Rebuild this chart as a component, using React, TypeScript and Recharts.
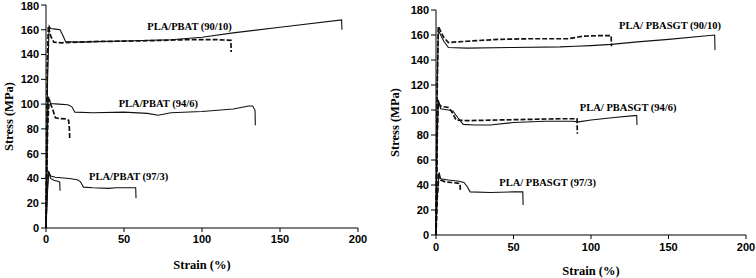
import React from 'react';
import { LineChart, Line, XAxis, YAxis, ReferenceDot, Label } from 'recharts';

// tick labels
const strainTicks = [0, 50, 100, 150, 200];
const stressTicks = [0, 20, 40, 60, 80, 100, 120, 140, 160, 180];

// PLA/PBAT (left panel)
const pbat9010aStrain = [0, 1, 2, 3, 6, 9, 11, 12.5, 20, 50, 80, 100, 120, 150, 189.5, 189.7];
const pbat9010aStress = [0, 120, 163, 161, 160.5, 160, 155, 150.5, 150, 151, 152, 154, 157.5, 162, 168, 160];
const pbat9010bStrain = [0, 0.8, 1.5, 3, 5, 10, 30, 60, 90, 110, 118.5, 118.7];
const pbat9010bStress = [0, 130, 163, 155, 150, 149.5, 150.5, 151, 152, 152, 151.5, 142];

const pbat946aStrain = [0, 1, 1.5, 3, 8, 14, 16.5, 18.5, 30, 50, 65, 72, 80, 100, 120, 130, 132.5, 134, 134.2];
const pbat946aStress = [0, 80, 106, 100.5, 100, 99.5, 98, 93.5, 93, 93.5, 92.5, 91, 93, 94, 96, 98.5, 98.5, 95, 83];
const pbat946bStrain = [0, 1, 2, 3, 4.5, 6, 8, 13, 14.5, 15, 15.2];
const pbat946bStress = [0, 80, 104, 100, 95, 89, 88.5, 88, 87, 80, 72];

const pbat973aStrain = [0, 0.8, 1.5, 3, 6, 15, 20, 22, 24, 30, 40, 45, 55, 57.5, 57.7];
const pbat973aStress = [0, 30, 46, 42, 41, 40, 39, 37.5, 33, 32.5, 32, 32.5, 32.5, 32.5, 24];
const pbat973bStrain = [0, 1, 1.8, 3, 5, 8, 8.8, 9];
const pbat973bStress = [0, 30, 45, 40, 38.5, 37.5, 37, 30];

// PLA/PBASGT (right panel)
const pbasgt9010aStrain = [0, 0.8, 1.5, 3, 5, 8, 20, 50, 80, 90, 100, 113, 130, 150, 179.8, 180];
const pbasgt9010aStress = [0, 120, 164, 160, 155, 150, 149.5, 150, 150.5, 151, 151.5, 152.5, 154.5, 156.5, 160, 148];
const pbasgt9010bStrain = [0, 0.8, 1.5, 3, 5, 8, 20, 40, 60, 85, 95, 105, 113, 113.2];
const pbasgt9010bStress = [0, 120, 167, 163, 158, 154, 155, 156.5, 157, 157, 159, 159.5, 159.5, 151];

const pbasgt946aStrain = [0, 0.8, 1.5, 3, 8, 11, 14, 17.5, 25, 35, 50, 70, 88, 92, 100, 115, 128, 129.5, 129.7];
const pbasgt946aStress = [0, 80, 108, 101, 100, 99, 94, 88.5, 88, 88, 90, 91, 91, 90.5, 92, 94, 95.5, 95.5, 88];
const pbasgt946bStrain = [0, 0.8, 1.5, 3, 8, 10, 13, 20, 40, 60, 80, 91, 91.2];
const pbasgt946bStress = [0, 80, 106, 103, 102, 99, 92, 91.5, 92, 92.5, 93, 93, 81];

const pbasgt973aStrain = [0, 0.8, 2, 3, 8, 15, 18, 20, 22, 35, 50, 56, 56.2];
const pbasgt973aStress = [0, 30, 50, 45, 44, 43, 42, 39, 34.5, 34, 34.5, 34.5, 24];
const pbasgt973bStrain = [0, 0.8, 1.8, 3, 6, 10, 14, 15.5, 15.7];
const pbasgt973bStress = [0, 30, 47, 44, 42.5, 42, 41.5, 41, 36];

// curve annotations
const pbatLabels = ['PLA/PBAT (90/10)', 'PLA/PBAT (94/6)', 'PLA/PBAT (97/3)'];
const pbatLabelX = [92, 72, 53];
const pbatLabelY = [163, 101, 41.5];
const pbasgtLabels = ['PLA/ PBASGT (90/10)', 'PLA/ PBASGT (94/6)', 'PLA/ PBASGT (97/3)'];
const pbasgtLabelX = [151, 124, 72];
const pbasgtLabelY = [168, 102, 42.5];

const pts = (xs: number[], ys: number[]) => xs.map((x, i) => ({ x, y: ys[i] }));

const tickStyle = { fill: '#000', fontFamily: 'Liberation Sans, Arial, sans-serif', fontWeight: 700, fontSize: 11 };
const titleStyle = { fill: '#000', fontFamily: 'Liberation Serif, Times New Roman, serif', fontWeight: 700, fontSize: 12.5 };
const annoStyle = { fill: '#000', fontFamily: 'Liberation Serif, Times New Roman, serif', fontWeight: 700, fontSize: 10.5 };

type Series = { data: { x: number; y: number }[]; dashed?: boolean };

const Panel: React.FC<{
  width: number;
  yAxisWidth: number;
  margin: { top: number; right: number; bottom: number; left: number };
  xAxisHeight: number;
  tickMargin: number;
  titleOffset: number;
  yTitleOffset: number;
  series: Series[];
  labels: string[];
  labelX: number[];
  labelY: number[];
}> = ({ width, yAxisWidth, margin, xAxisHeight, tickMargin, titleOffset, yTitleOffset, series, labels, labelX, labelY }) => (
  <LineChart width={width} height={278} margin={margin}>
    <XAxis
      type="number"
      dataKey="x"
      domain={[0, 200]}
      ticks={strainTicks}
      tick={tickStyle}
      tickSize={4}
      tickMargin={tickMargin}
      height={xAxisHeight}
      stroke="#000"
      allowDecimals={false}
    >
      <Label value="Strain (%)" position="insideBottom" offset={titleOffset} style={titleStyle} />
    </XAxis>
    <XAxis xAxisId="top" orientation="top" type="number" domain={[0, 200]} tick={false} tickLine={false} height={0} stroke="#000" />
    <YAxis
      type="number"
      domain={[0, 180]}
      ticks={stressTicks}
      tick={tickStyle}
      tickSize={5}
      tickMargin={2}
      width={yAxisWidth}
      stroke="#000"
    >
      <Label value="Stress (MPa)" angle={-90} position="insideLeft" offset={yTitleOffset} style={{ ...titleStyle, textAnchor: 'middle' }} />
    </YAxis>
    <YAxis yAxisId="right" orientation="right" domain={[0, 180]} tick={false} tickLine={false} width={0} stroke="#000" />
    {series.map((s, i) => (
      <Line
        key={i}
        data={s.data}
        dataKey="y"
        type="linear"
        dot={false}
        stroke="#111"
        strokeWidth={s.dashed ? 1.7 : 1.1}
        strokeDasharray={s.dashed ? '5 2' : undefined}
        isAnimationActive={false}
      />
    ))}
    {labels.map((t, i) => (
      <ReferenceDot key={t} x={labelX[i]} y={labelY[i]} r={0} stroke="none" fill="none"
        label={{ value: t, position: 'center', style: annoStyle }} />
    ))}
  </LineChart>
);

const App: React.FC = () => {
  const pbatSeries: Series[] = [
    { data: pts(pbat9010aStrain, pbat9010aStress) },
    { data: pts(pbat9010bStrain, pbat9010bStress), dashed: true },
    { data: pts(pbat946aStrain, pbat946aStress) },
    { data: pts(pbat946bStrain, pbat946bStress), dashed: true },
    { data: pts(pbat973aStrain, pbat973aStress) },
    { data: pts(pbat973bStrain, pbat973bStress) },
  ];
  const pbasgtSeries: Series[] = [
    { data: pts(pbasgt9010aStrain, pbasgt9010aStress) },
    { data: pts(pbasgt9010bStrain, pbasgt9010bStress), dashed: true },
    { data: pts(pbasgt946aStrain, pbasgt946aStress) },
    { data: pts(pbasgt946bStrain, pbasgt946bStress), dashed: true },
    { data: pts(pbasgt973aStrain, pbasgt973aStress) },
    { data: pts(pbasgt973bStrain, pbasgt973bStress), dashed: true },
  ];

  return (
    <div style={{ position: 'absolute', left: 0, top: 0, width: 756, height: 278, background: '#fff' }}>
      <div style={{ position: 'absolute', left: 0, top: 0 }}>
        <Panel
          width={370}
          yAxisWidth={46}
          margin={{ top: 5, right: 12, bottom: 0, left: 0 }}
          xAxisHeight={50}
          tickMargin={3}
          titleOffset={9}
          yTitleOffset={9}
          series={pbatSeries}
          labels={pbatLabels}
          labelX={pbatLabelX}
          labelY={pbatLabelY}
        />
      </div>
      <div style={{ position: 'absolute', left: 380, top: 0 }}>
        <Panel
          width={376}
          yAxisWidth={56}
          margin={{ top: 10, right: 10, bottom: 0, left: 0 }}
          xAxisHeight={43}
          tickMargin={4}
          titleOffset={3}
          yTitleOffset={15}
          series={pbasgtSeries}
          labels={pbasgtLabels}
          labelX={pbasgtLabelX}
          labelY={pbasgtLabelY}
        />
      </div>
    </div>
  );
};

export default App;
